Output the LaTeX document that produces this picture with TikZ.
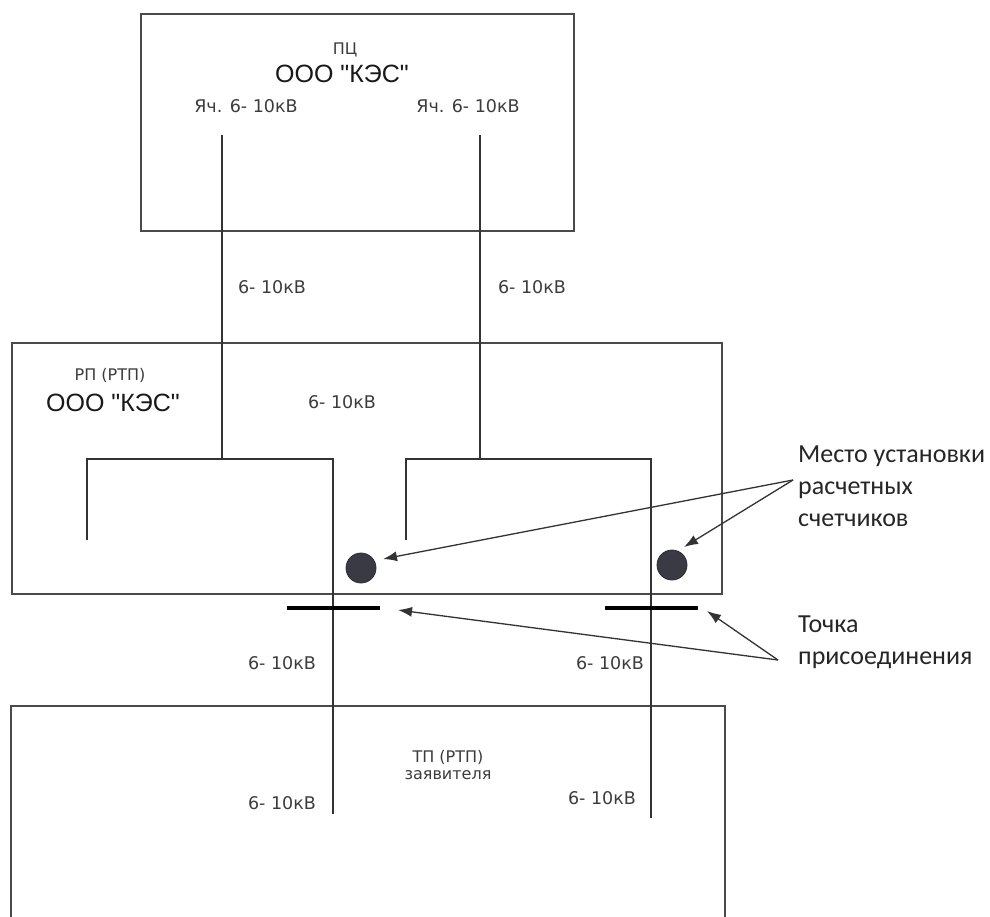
\documentclass[tikz,border=0pt]{standalone}
\usepackage{fontspec}
\setmainfont{Liberation Sans}
\newfontfamily\orgfont{Liberation Sans}
\newfontfamily\lblfont{DejaVu Sans}
\newfontfamily\notefont{Carlito}
\usetikzlibrary{arrows.meta}
\definecolor{boxgray}{HTML}{4A4A4A}
\definecolor{linegray}{HTML}{333333}
\definecolor{txtgray}{HTML}{3C3C3C}
\definecolor{meterfill}{HTML}{3A3A44}
\begin{document}
\begin{tikzpicture}[x=1pt,y=-1pt,
  box/.style={draw=boxgray,line width=1.5pt,inner sep=0pt,anchor=north west},
  wire/.style={draw=linegray,line width=1.2pt},
  bar/.style={draw=black,line width=3.5pt},
  lbl/.style={text=txtgray,font=\lblfont\fontsize{17.5}{20}\selectfont,inner sep=0pt},
  small/.style={text=txtgray,font=\lblfont\fontsize{16}{18}\selectfont,inner sep=0pt},
  org/.style={text=black!90,font=\orgfont\fontsize{25}{28}\selectfont,inner sep=0pt},
  note/.style={text=black!85,font=\notefont\fontsize{26}{32}\selectfont,align=left,inner sep=0pt,anchor=north west},
  meter/.style={circle,fill=meterfill,draw=meterfill!80!black,line width=0.8pt,minimum size=30pt,inner sep=0pt},
  pointer/.style={draw=linegray,line width=1.3pt,-{Latex[length=14pt,width=10pt]}}]
\path[use as bounding box,fill=white] (0,0) rectangle (990,916);

% boxes
\node[box,minimum width=433pt,minimum height=217pt] (pc) at (140,13) {};
\node[box,minimum width=710pt,minimum height=251pt] (rp) at (11,342) {};
\begin{scope}
\clip (0,0) rectangle (990,916);
\node[box,minimum width=714pt,minimum height=260pt] (tp) at (10,705) {};
\end{scope}

% texts in ПЦ
\node[small] (pct) at (345,50) {ПЦ};
\node[org] (pco) at (342,74) {ООО "КЭС"};
\node[lbl] (ya1) at (246,106) {Яч. 6- 10кВ};
\node[lbl] (ya2) at (468,106) {Яч. 6- 10кВ};

% coordinates of the network
\coordinate (a0) at (222,135);
\coordinate (a1) at (222,459);
\coordinate (aL) at (87,459);
\coordinate (aLe) at (87,540);
\coordinate (aR) at (333,459);
\coordinate (aRe) at (333,814);
\coordinate (b0) at (480,135);
\coordinate (b1) at (480,459);
\coordinate (bL) at (406,459);
\coordinate (bLe) at (406,540);
\coordinate (bR) at (651,459);
\coordinate (bRe) at (651,818);

\draw[wire] (a0) -- (a1);
\draw[wire] (aLe) -- (aL) -- (aR) -- (aRe);
\draw[wire] (b0) -- (b1);
\draw[wire] (bLe) -- (bL) -- (bR) -- (bRe);

% labels between boxes
\node[lbl] (k1) at (272,287) {6- 10кВ};
\node[lbl] (k2) at (532,287) {6- 10кВ};

% РП texts
\node[small] (rpt) at (110,375) {РП (РТП)};
\node[org] (rpo) at (113,403) {ООО "КЭС"};
\node[lbl] (k3) at (342,402) {6- 10кВ};

% meters
\node[meter] (m1) at (361,568) {};
\node[meter] (m2) at (672,565) {};

% connection bars
\coordinate (p1a) at (287,608);
\coordinate (p1b) at (380,608);
\coordinate (p2a) at (605,608);
\coordinate (p2b) at (698,608);
\draw[bar] (p1a) -- (p1b);
\draw[bar] (p2a) -- (p2b);

% labels below
\node[lbl] (k4) at (282,663) {6- 10кВ};
\node[lbl] (k5) at (610,663) {6- 10кВ};
\node[small] (tpt) at (448,757) {ТП (РТП)};
\node[small] (tpz) at (448,775) {заявителя};
\node[lbl] (k6) at (282,803) {6- 10кВ};
\node[lbl] (k7) at (602,798) {6- 10кВ};

% annotations
\node[note] (n1) at (798,446) {Место установки\\расчетных\\счетчиков};
\node[note] (n2) at (798,616) {Точка\\присоединения};
\coordinate (s1) at (793,480);
\coordinate (s2) at (778,660);
\coordinate (t1) at (383,559);
\coordinate (t2) at (684,547);
\coordinate (t3) at (398,610);
\coordinate (t4) at (707,611);
\draw[pointer] (s1) -- (t1);
\draw[pointer] (s1) -- (t2);
\draw[pointer] (s2) -- (t3);
\draw[pointer] (s2) -- (t4);
\end{tikzpicture}
\end{document}
